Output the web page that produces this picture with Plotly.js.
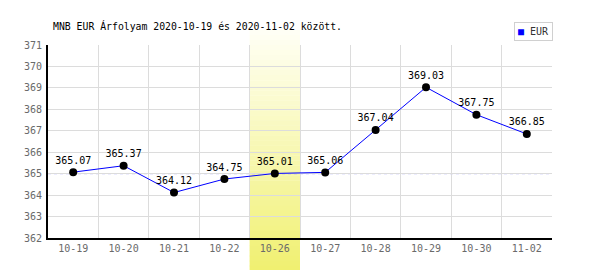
<!DOCTYPE html>
<html>
<head>
<meta charset="utf-8">
<script src="https://cdn.plot.ly/plotly-3.0.1.min.js"></script>
<style>html,body{margin:0;padding:0;background:#fff;}#chart{width:600px;height:270px;}</style>
</head>
<body>
<div id="chart"></div>
<script>
const categories = ['10-19','10-20','10-21','10-22','10-26','10-27','10-28','10-29','10-30','11-02'];
const rates = [365.07, 365.37, 364.12, 364.75, 365.01, 365.06, 367.04, 369.03, 367.75, 366.85];
const rateLabels = ['365.07','365.37','364.12','364.75','365.01','365.06','367.04','369.03','367.75','366.85'];
const baseline = [365];
const highlightCategory = ['10-26'];
const yTicks = [362, 363, 364, 365, 366, 367, 368, 369, 370, 371];
const seriesName = ['EUR'];
const titleText = ['MNB EUR Árfolyam 2020-10-19 és 2020-11-02 között.'];

const mono = 'DejaVu Sans Mono, monospace';

// gradient band for highlighted category
const hi = categories.indexOf(highlightCategory[0]);
const shapes = [];
const nStrips = 48;
const yTop = 1.078, yBot = -0.17;
const c0 = [255, 255, 246], c1 = [240, 240, 112];
for (let i = 0; i < nStrips; i++) {
  const t = (i + 0.5) / nStrips;
  const col = c0.map((v, k) => Math.round(v + (c1[k] - v) * t));
  shapes.push({
    type: 'rect', layer: 'between', xref: 'x', yref: 'paper',
    x0: hi - 0.5, x1: hi + 0.5,
    y0: yTop - (yTop - yBot) * (i + 1) / nStrips - 0.002,
    y1: yTop - (yTop - yBot) * i / nStrips,
    fillcolor: 'rgb(' + col.join(',') + ')', line: {width: 0}
  });
}
shapes.push({
  type: 'line', layer: 'between', xref: 'paper', yref: 'y',
  x0: 0, x1: 1, y0: baseline[0], y1: baseline[0],
  line: {color: '#8c8cff', width: 1, dash: '3px,3px'}
});

const trace = {
  x: categories, y: rates, text: rateLabels,
  type: 'scatter', mode: 'lines+markers+text',
  textposition: 'top center',
  textfont: {family: mono, size: 10, color: '#000'},
  line: {color: '#0000ff', width: 1},
  marker: {color: '#000', size: 8},
  cliponaxis: false, showlegend: false, hoverinfo: 'skip'
};

const layout = {
  width: 600, height: 270,
  margin: {l: 48, r: 48, t: 45, b: 32, pad: 0},
  paper_bgcolor: '#fff', plot_bgcolor: '#fff',
  showlegend: false,
  title: {
    text: titleText[0], xref: 'container', yref: 'container',
    x: 53 / 600, xanchor: 'left', y: 1 - 27 / 270, yanchor: 'middle',
    font: {family: mono, size: 9.8, color: '#000'}
  },
  xaxis: {
    type: 'category', categoryorder: 'array', categoryarray: categories,
    range: [-0.5, categories.length - 0.5],
    tickson: 'boundaries', ticks: '',
    showgrid: true, gridcolor: '#dcdcdc', gridwidth: 1,
    showline: true, linecolor: '#000', linewidth: 2,
    tickfont: {family: mono, size: 10, color: '#6a6a6a'},
    fixedrange: true
  },
  yaxis: {
    range: [yTicks[0], yTicks[yTicks.length - 1]],
    tickvals: yTicks, ticktext: yTicks.map(String), ticks: '',
    showgrid: true, gridcolor: '#dcdcdc', gridwidth: 1, zeroline: false,
    showline: true, linecolor: '#000', linewidth: 2,
    tickfont: {family: mono, size: 10, color: '#6a6a6a'},
    ticklabelstandoff: 2,
    fixedrange: true
  },
  shapes: shapes,
  annotations: [{
    xref: 'paper', yref: 'paper', x: 1.002, y: 1 + 4 / 193,
    xanchor: 'right', yanchor: 'bottom',
    text: '<span style="color:#0000ff">■</span> ' + seriesName[0],
    showarrow: false, align: 'left',
    font: {family: mono, size: 10, color: '#333'},
    bgcolor: '#fff', bordercolor: '#d0d0d0', borderwidth: 1, borderpad: 3
  }]
};

Plotly.newPlot('chart', [trace], layout, {displayModeBar: false, staticPlot: true});
</script>
</body>
</html>
